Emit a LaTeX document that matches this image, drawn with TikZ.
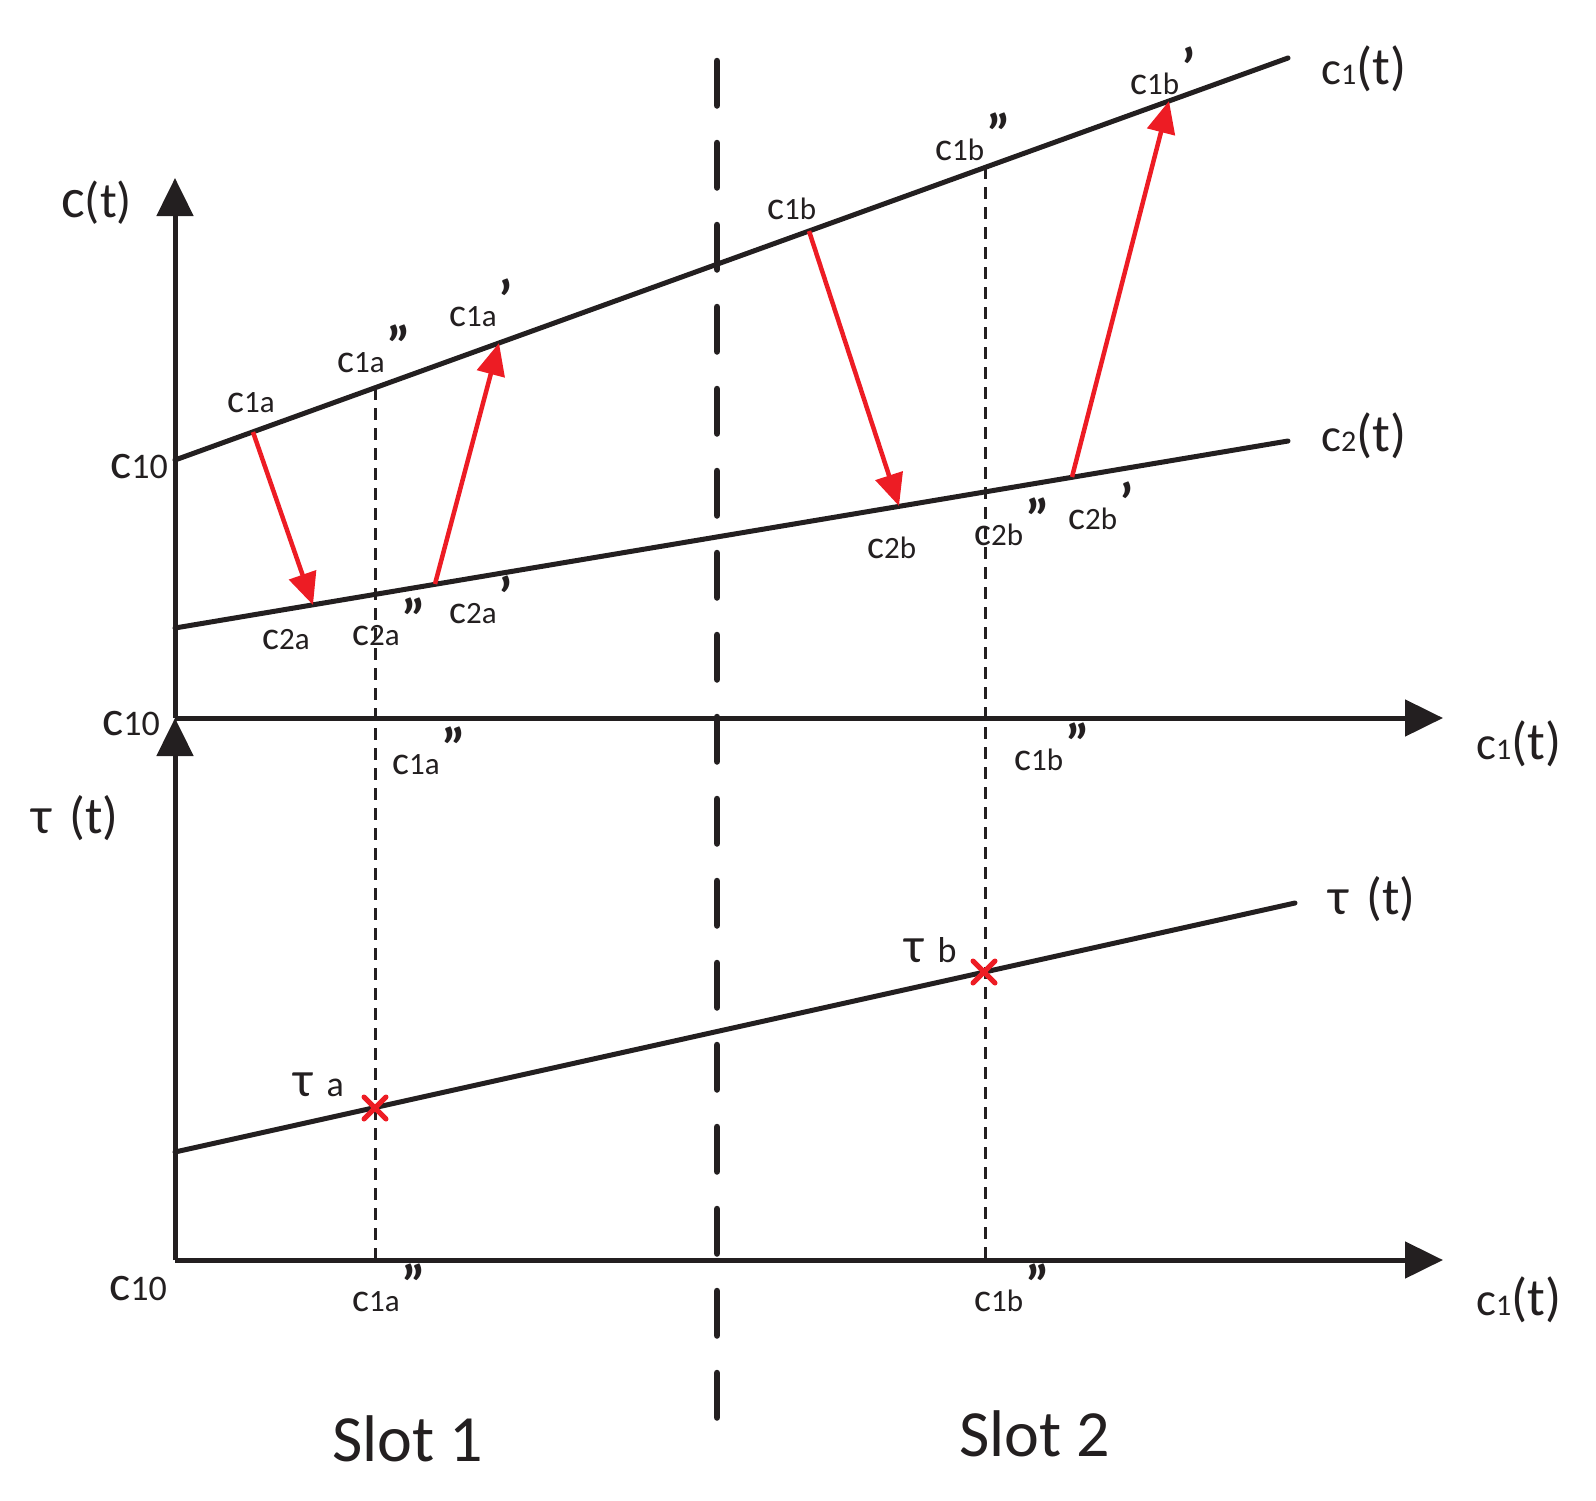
\documentclass[tikz,border=0pt]{standalone}
\usepackage{fontspec}
\setmainfont{Carlito}
\usetikzlibrary{arrows.meta}
\definecolor{ink}{HTML}{231F20}
\definecolor{arr}{HTML}{ED1C24}
\newcommand{\fs}[1]{\fontsize{#1}{#1}\selectfont}
\newcommand{\clab}[1]{{\fs{40}c}{\fs{31}#1}}
\newcommand{\dquo}{\hspace{2pt}\raisebox{7pt}{\fs{56}\bfseries ”}}
\newcommand{\squo}{\hspace{2pt}\raisebox{7pt}{\fs{56}\bfseries ’}}
\newcommand{\funlab}[1]{{\fs{47}c}{\fs{30}#1}{\fs{53}(t)}}
\newcommand{\czero}{{\fs{50}c}{\fs{36}10}}
\newcommand{\taulab}[1]{{\fs{50}τ}\hspace{14pt}{\fs{36}#1}}
\newcommand{\taufun}{{\fs{52}τ}\hspace{18pt}{\fs{52}(t)}}
\begin{document}
\begin{tikzpicture}[x=1pt,y=-1pt,
  axis/.style={ink, line width=5pt, -{Triangle[length=38pt,width=36pt]}},
  curve/.style={ink, line width=5pt, line cap=round},
  guide/.style={ink, line width=3pt, dash pattern=on 12pt off 8pt},
  slotline/.style={ink, line width=6.5pt, line cap=round, dash pattern=on 44.5pt off 37.5pt},
  redarrow/.style={arr, line width=4.5pt, -{Triangle[length=32pt,width=28pt]}},
  crossmark/.style={arr, line width=5pt, line cap=round},
  lbl/.style={inner sep=0pt, anchor=base west, text=ink}]
\useasboundingbox (0,0) rectangle (1596,1500);
% coordinates
\coordinate (O1) at (175,718);
\coordinate (Ytop) at (175,178);
\coordinate (X1) at (1443,718);
\coordinate (O2) at (175,1260);
\coordinate (X2) at (1443,1260);
\coordinate (C1s) at (175,460);
\coordinate (C1e) at (1288,58);
\coordinate (C2s) at (175,628);
\coordinate (C2e) at (1288,441);
\coordinate (Ts) at (175,1152);
\coordinate (Te) at (1295,903);
\coordinate (Gat) at (375,388);
\coordinate (Gab) at (375,1260);
\coordinate (Gbt) at (985,167);
\coordinate (Gbb) at (985,1260);
\coordinate (Dt) at (717,61);
\coordinate (Db) at (717,1418);
\coordinate (A1s) at (253,432);
\coordinate (A1e) at (313,605);
\coordinate (A2s) at (435,584);
\coordinate (A2e) at (499,343);
\coordinate (A3s) at (809,231);
\coordinate (A3e) at (899,506);
\coordinate (A4s) at (1072,477);
\coordinate (A4e) at (1169,101);
\coordinate (Xa) at (375,1108);
\coordinate (Xb) at (984,972);
% guides
\draw[guide] (Gat) -- (Gab);
\draw[guide] (Gbt) -- (Gbb);
\draw[slotline] (Dt) -- (Db);
% axes
\draw[axis] (O1) -- (Ytop);
\draw[axis] (O1) -- (X1);
\draw[axis] (O2) -- (O1);
\draw[axis] (O2) -- (X2);
% curves
\draw[curve] (C1s) -- (C1e);
\draw[curve] (C2s) -- (C2e);
\draw[curve] (Ts) -- (Te);
% red arrows
\draw[redarrow] (A1s) -- (A1e);
\draw[redarrow] (A2s) -- (A2e);
\draw[redarrow] (A3s) -- (A3e);
\draw[redarrow] (A4s) -- (A4e);
% crosses
\draw[crossmark] (Xa) +(-11,-11) -- +(11,11) (Xa) +(-11,11) -- +(11,-11);
\draw[crossmark] (Xb) +(-11,-11) -- +(11,11) (Xb) +(-11,11) -- +(11,-11);
% labels
\node[lbl] (lct) at (61,217) {{\fs{56}c}{\fs{50}(t)}};
\node[lbl] (lc10a) at (110,478) {\czero};
\node[lbl] (lc1a) at (227,412) {\clab{1a}};
\node[lbl] (lc1add) at (337,372) {\clab{1a}\dquo};
\node[lbl] (lc1ad) at (449,326) {\clab{1a}\squo};
\node[lbl] (lc2a) at (262,649) {\clab{2a}};
\node[lbl] (lc2add) at (352,645) {\clab{2a}\dquo};
\node[lbl] (lc2ad) at (449,623) {\clab{2a}\squo};
\node[lbl] (lc10b) at (102,735) {\czero};
\node[lbl] (lc1addm) at (392,774) {\clab{1a}\dquo};
\node[lbl] (lc1b) at (767,219) {\clab{1b}};
\node[lbl] (lc1bdd) at (935,160) {\clab{1b}\dquo};
\node[lbl] (lc1bd) at (1130,94) {\clab{1b}\squo};
\node[lbl] (lf1) at (1321,84) {\funlab{1}};
\node[lbl] (lf2) at (1321,451) {\funlab{2}};
\node[lbl] (lc2b) at (867,558) {\clab{2b}};
\node[lbl] (lc2bdd) at (974,545) {\clab{2b}\dquo};
\node[lbl] (lc2bd) at (1068,529) {\clab{2b}\squo};
\node[lbl] (lx1) at (1476,759) {\funlab{1}};
\node[lbl] (lc1bddm) at (1014,770) {\clab{1b}\dquo};
\node[lbl] (ltau) at (31,833) {\taufun};
\node[lbl] (ltaur) at (1328,914) {\taufun};
\node[lbl] (ltb) at (904,962) {\taulab{b}};
\node[lbl] (lta) at (293,1096) {\taulab{a}};
\node[lbl] (lc10c) at (109,1300) {\czero};
\node[lbl] (lc1addb) at (352,1311) {\clab{1a}\dquo};
\node[lbl] (lc1bddb) at (974,1311) {\clab{1b}\dquo};
\node[lbl] (lx2) at (1476,1315) {\funlab{1}};
\node[lbl] (slot1) at (332,1461) {\fs{66}Slot 1};
\node[lbl] (slot2) at (959,1456) {\fs{66}Slot 2};
\end{tikzpicture}
\end{document}
